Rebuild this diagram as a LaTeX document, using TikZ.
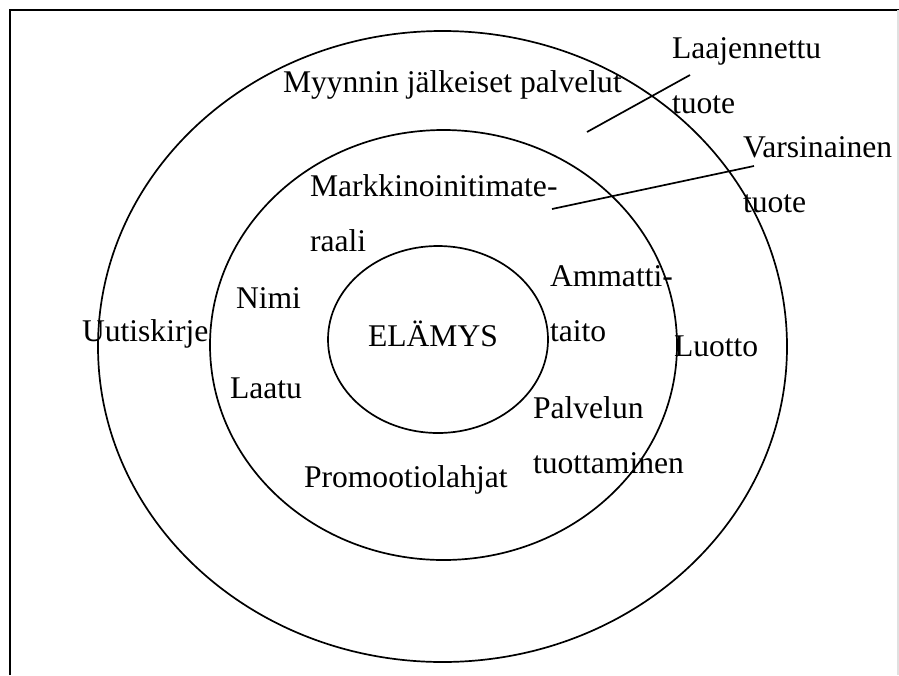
\documentclass[tikz,border=0pt]{standalone}
\usepackage{fontspec}
\setmainfont{Liberation Serif}
\begin{document}
\begin{tikzpicture}[x=0.5pt,y=-0.5pt,
  lbl/.style={anchor=base west,inner sep=0pt,outer sep=0pt,align=left,
    font=\fontsize{15.8pt}{27.5pt}\selectfont},
  ring/.style={draw=black,line width=0.85pt},
  frameline/.style={draw=black,line width=1.2pt},
  pointer/.style={draw=black,line width=0.85pt}]
\useasboundingbox (0,0) rectangle (899,675);
% frame
\draw[frameline] (10,675) -- (10,10) -- (899,10);
\draw[draw=black!12,line width=0.8pt] (898,10) -- (898,675);
% rings
\coordinate (co) at (442.5,346.5);
\coordinate (cm) at (443.5,345);
\coordinate (ci) at (438,339.5);
\draw[ring] (co) ellipse [x radius=172.25pt, y radius=157.75pt];
\draw[ring] (cm) ellipse [x radius=116.75pt, y radius=107.5pt];
\draw[ring] (ci) ellipse [x radius=55pt, y radius=46.75pt];
% labels (multi-line nodes: base = last line)
\node[lbl] (laaj) at (672,113) {Laajennettu\\tuote};
\node[lbl] (vars) at (743,212) {Varsinainen\\tuote};
\node[lbl] (myyn) at (283,92) {Myynnin jälkeiset palvelut};
\node[lbl] (mark) at (310,251) {Markkinoinitimate-\\raali};
\node[lbl] (nimi) at (236,308) {Nimi};
\node[lbl] (uuti) at (82,341) {Uutiskirje};
\node[lbl] (laat) at (230,398) {Laatu};
\node[lbl] (prom) at (304,487) {Promootiolahjat};
\node[lbl] (elam) at (368,346) {ELÄMYS};
\node[lbl] (amma) at (550,341) {Ammatti-\\taito};
\node[lbl] (luot) at (674,356) {Luotto};
\node[lbl] (palv) at (533,473) {Palvelun\\tuottaminen};
% pointer lines
\coordinate (p1a) at (587,132);
\coordinate (p1b) at (690,75);
\coordinate (p2a) at (552,209);
\coordinate (p2b) at (754,166);
\draw[pointer] (p1a) -- (p1b);
\draw[pointer] (p2a) -- (p2b);
\end{tikzpicture}
\end{document}
